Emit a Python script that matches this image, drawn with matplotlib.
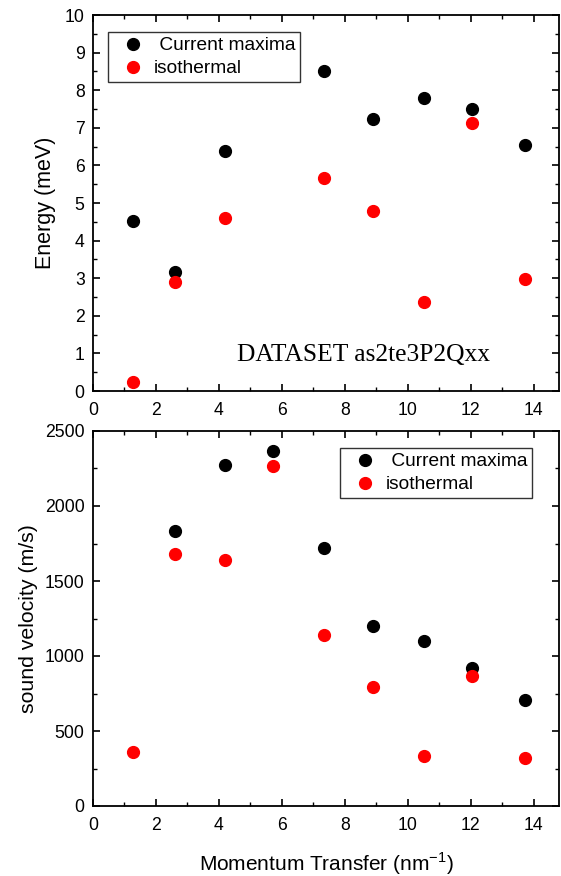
import matplotlib
matplotlib.use("Agg")
import matplotlib.pyplot as plt
from matplotlib.ticker import MultipleLocator

# momentum transfer (nm^-1)
q_energy = [1.26, 2.6, 4.19, 7.34, 8.88, 10.52, 12.05, 13.71]
e_current = [4.52, 3.17, 6.38, 8.52, 7.23, 7.79, 7.49, 6.53]
e_iso = [0.25, 2.91, 4.60, 5.66, 4.79, 2.37, 7.12, 2.99]

q_vel_current = [2.6, 4.19, 5.72, 7.34, 8.88, 10.52, 12.05, 13.71]
v_current = [1833, 2273, 2367, 1720, 1200, 1098, 918, 707]
q_vel_iso = [1.26, 2.6, 4.19, 5.72, 7.34, 8.88, 10.52, 12.05, 13.71]
v_iso = [362, 1682, 1638, 2269, 1140, 793, 333, 869, 322]

plt.rcParams.update({
    "font.family": ["Liberation Sans", "DejaVu Sans"],
    "font.size": 12.7,
    "axes.linewidth": 1.3,
    "xtick.direction": "in",
    "ytick.direction": "in",
    "xtick.top": True,
    "ytick.right": True,
    "xtick.major.size": 5,
    "ytick.major.size": 5,
    "xtick.minor.size": 3,
    "ytick.minor.size": 3,
    "xtick.major.width": 1.2,
    "ytick.major.width": 1.2,
    "xtick.minor.width": 1.0,
    "ytick.minor.width": 1.0,
    "xtick.minor.top": True,
    "ytick.minor.right": True,
    "xtick.major.pad": 8,
    "ytick.major.pad": 6,
})

fig = plt.figure(figsize=(5.61, 8.76), dpi=100)
W, H = 561, 876
ax1 = fig.add_axes([93 / W, 1 - 391 / H, 466 / W, 376 / H])
ax2 = fig.add_axes([93 / W, 1 - 806 / H, 466 / W, 375 / H])

ms = 8.5
ax1.plot(q_energy, e_current, "o", color="black", ms=ms, label=" Current maxima")
ax1.plot(q_energy, e_iso, "o", color="red", ms=ms, label="isothermal")
ax2.plot(q_vel_current, v_current, "o", color="black", ms=ms, label=" Current maxima")
ax2.plot(q_vel_iso, v_iso, "o", color="red", ms=ms, label="isothermal")

for ax in (ax1, ax2):
    ax.set_xlim(0, 14.8)
    ax.xaxis.set_major_locator(MultipleLocator(2))
    ax.xaxis.set_minor_locator(MultipleLocator(1))

ax1.set_ylim(0, 10)
ax1.yaxis.set_major_locator(MultipleLocator(1))
ax1.yaxis.set_minor_locator(MultipleLocator(0.5))
ax2.set_ylim(0, 2500)
ax2.yaxis.set_major_locator(MultipleLocator(500))
ax2.yaxis.set_minor_locator(MultipleLocator(250))

ax1.set_ylabel("Energy (meV)", fontsize=15.5, labelpad=6)
ax2.set_ylabel("sound velocity (m/s)", fontsize=15.3, labelpad=5)
ax2.set_xlabel("Momentum Transfer (nm$^{\\mathregular{-1}}$)", fontsize=15, labelpad=12)

leg_kw = dict(frameon=True, fancybox=False, edgecolor="black", fontsize=13.8,
              handletextpad=0.05, borderpad=0.25, labelspacing=0.3,
              handlelength=2.1, borderaxespad=0)
l1 = ax1.legend(loc="upper left", bbox_to_anchor=((108 - 93) / 466, (391 - 32) / 376), **leg_kw)
l1.get_frame().set_linewidth(1.0)
l2 = ax2.legend(loc="upper left", bbox_to_anchor=((340 - 93) / 466, (806 - 448) / 375), **leg_kw)
l2.get_frame().set_linewidth(1.0)

ax1.text(0.31, 0.095, "DATASET as2te3P2Qxx", transform=ax1.transAxes,
         fontsize=18.4, family=["Liberation Serif", "DejaVu Serif"], va="center")

fig.savefig("out.png", dpi=100)
